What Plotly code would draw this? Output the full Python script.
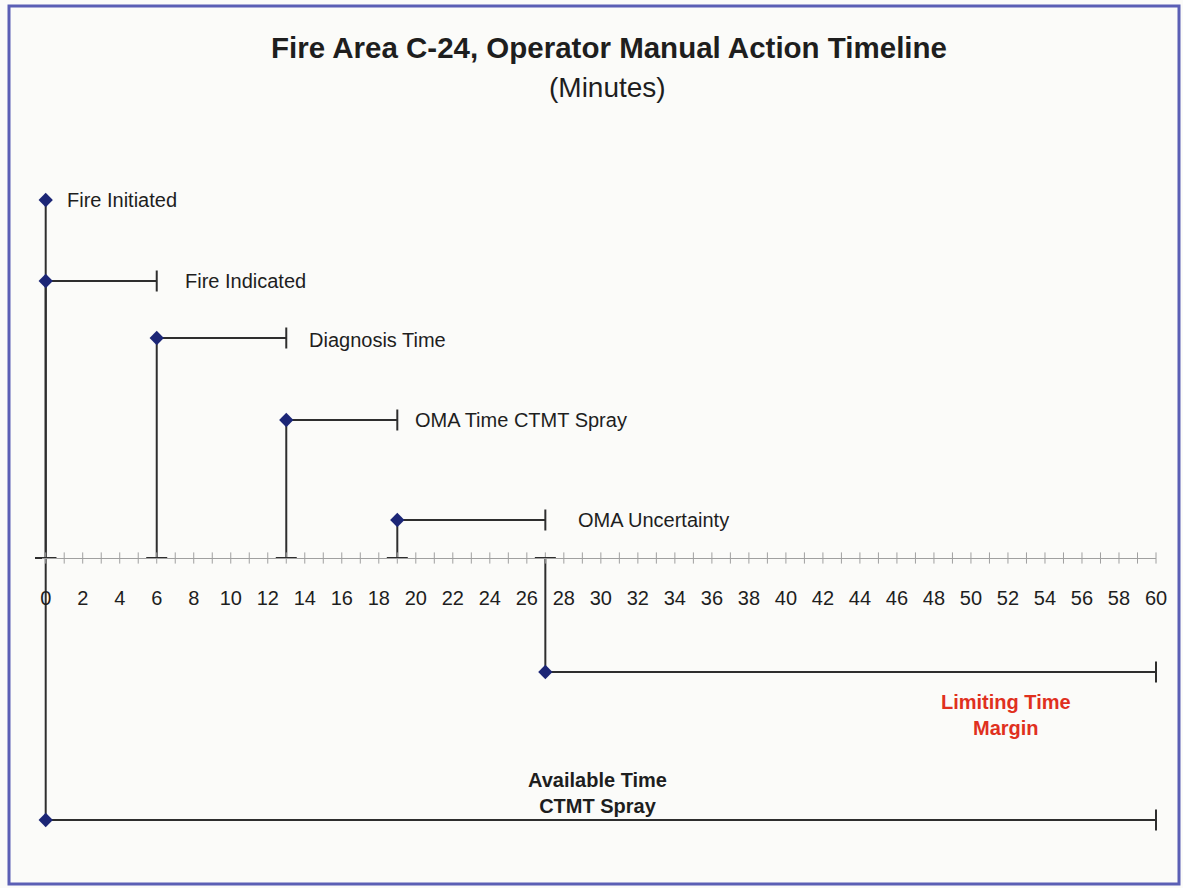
import plotly.graph_objects as go

# ---- data ----
events = ["Fire Initiated", "Fire Indicated", "Diagnosis Time", "OMA Time CTMT Spray",
          "OMA Uncertainty", "Limiting Time Margin", "Available Time CTMT Spray"]
start = [0, 0, 6, 13, 19, 27, 0]          # minutes
duration = [0, 6, 7, 6, 8, 33, 60]        # minutes
level = [3.58, 2.77, 2.20, 1.38, 0.38, -1.14, -2.62]   # vertical placement (arbitrary)
tick_values = list(range(0, 61))
tick_labels = list(range(0, 61, 2))

# ---- layout constants (pixels) ----
W, H = 1183, 888
ML, MR, MT, MB = 42, 27, 158, 30
XR = [-0.2, 60]
YR = [-3, 4]
LINE = "#2e2e2e"
NAVY = "#1c2676"
FONT = "Liberation Sans, Arial, sans-serif"

fig = go.Figure()

# horizontal duration segments
hx, hy, cx, cy = [], [], [], []
for s, d, l in zip(start, duration, level):
    if d > 0:
        hx += [s, s + d, None]
        hy += [l, l, None]
        cx.append(s + d)
        cy.append(l)
fig.add_trace(go.Scatter(x=hx, y=hy, mode="lines", line=dict(color=LINE, width=2),
                         hoverinfo="skip", showlegend=False, cliponaxis=False))

# vertical drop lines to the axis
vx, vy, fx, fy = [], [], [], []
for s, l in zip(start, level):
    vx += [s, s, None]
    vy += [l, 0, None]
    fx.append(s)
    fy.append(0)
fig.add_trace(go.Scatter(x=vx, y=vy, mode="lines", line=dict(color=LINE, width=2),
                         hoverinfo="skip", showlegend=False, cliponaxis=False))

# axis ticks (crossing)
fig.add_trace(go.Scatter(x=tick_values, y=[0] * len(tick_values), mode="markers",
                         marker=dict(symbol="line-ns", size=8,
                                     line=dict(color="#a0a0a0", width=1)),
                         hoverinfo="skip", showlegend=False, cliponaxis=False))

# end caps of durations
fig.add_trace(go.Scatter(x=cx, y=cy, mode="markers",
                         marker=dict(symbol="line-ns", size=15, line=dict(color=LINE, width=2)),
                         hoverinfo="skip", showlegend=False, cliponaxis=False))
# foot caps on axis
fig.add_trace(go.Scatter(x=fx, y=fy, mode="markers",
                         marker=dict(symbol="line-ew", size=15, line=dict(color=LINE, width=2)),
                         hoverinfo="skip", showlegend=False, cliponaxis=False))
# diamonds at start
fig.add_trace(go.Scatter(x=start, y=level, mode="markers",
                         marker=dict(symbol="diamond", size=11, color=NAVY),
                         text=events, hoverinfo="text", showlegend=False, cliponaxis=False))

# ---- labels ----
label_shift = [19, 26, 21, 16, 31]   # px right of segment end
for i in range(5):
    fig.add_annotation(x=start[i] + duration[i], y=level[i], xref="x", yref="y",
                       text=events[i], showarrow=False, xanchor="left", yanchor="middle",
                       xshift=label_shift[i], yshift=-2 if i == 2 else 0,
                       font=dict(family=FONT, size=20, color="#1e1e1e"))

fig.add_annotation(x=51.9, y=-1.57, xref="x", yref="y",
                   text="<b>Limiting Time<br>Margin</b>", showarrow=False,
                   xanchor="center", yanchor="middle",
                   font=dict(family=FONT, size=20, color="#e0301e"))
fig.add_annotation(x=29.8, y=-2.35, xref="x", yref="y",
                   text="<b>Available Time<br>CTMT Spray</b>", showarrow=False,
                   xanchor="center", yanchor="middle",
                   font=dict(family=FONT, size=20, color="#1e1e1e"))

# subtitle
plot_h = H - MT - MB
plot_w = W - ML - MR
fig.add_annotation(x=(607 - ML) / plot_w, y=(H - MB - 88) / plot_h, xref="paper", yref="paper",
                   text="(Minutes)", showarrow=False, xanchor="center", yanchor="middle",
                   font=dict(family=FONT, size=28, color="#1e1e1e"))

# border
fig.add_shape(type="rect", xref="paper", yref="paper",
              x0=(9 - ML) / plot_w, x1=(1179 - ML) / plot_w,
              y0=(H - MB - 884) / plot_h, y1=(H - MB - 6) / plot_h,
              line=dict(color="#5b5fb5", width=3), layer="below")

fig.update_layout(
    width=W, height=H,
    margin=dict(l=ML, r=MR, t=MT, b=MB),
    paper_bgcolor="#fbfbf9", plot_bgcolor="#fbfbf9",
    title=dict(text="<b>Fire Area C-24, Operator Manual Action Timeline</b>",
               x=609 / W, y=1 - 48 / H, xanchor="center", yanchor="middle",
               font=dict(family=FONT, size=29.5, color="#1e1e1e")),
    xaxis=dict(range=XR, anchor="free", position=(0 - YR[0]) / (YR[1] - YR[0]),
               showgrid=False, zeroline=False, showline=True, linecolor="#a0a0a0", linewidth=1,
               tickmode="array", tickvals=tick_labels, ticktext=[str(t) for t in tick_labels],
               ticks="outside", ticklen=22, tickcolor="rgba(0,0,0,0)",
               tickfont=dict(family=FONT, size=20, color="#1e1e1e")),
    yaxis=dict(range=YR, visible=False, showgrid=False, zeroline=False),
    showlegend=False,
)

fig.write_html("out.html", config={"displayModeBar": False},
               post_script="document.body.style.margin='0';document.body.style.overflow='hidden';")
